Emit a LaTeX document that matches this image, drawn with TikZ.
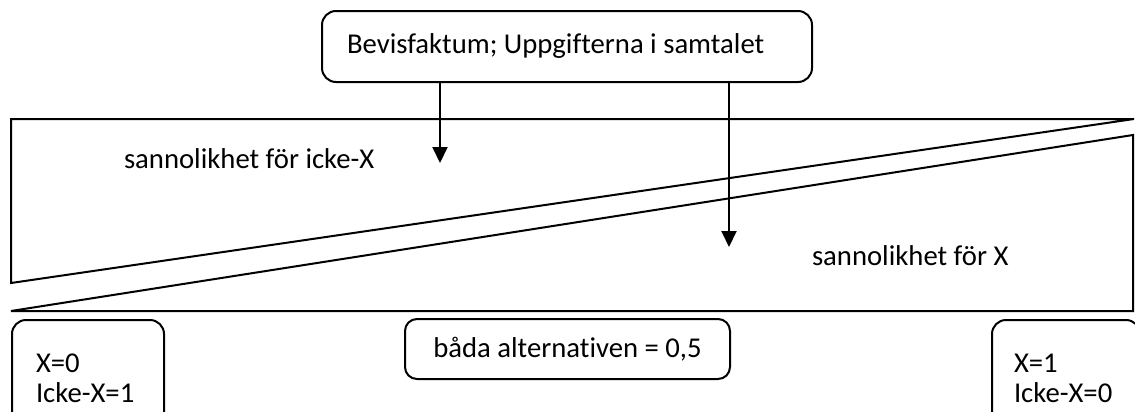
\documentclass[tikz,border=0pt]{standalone}
\usepackage{fontspec}
\setmainfont{Carlito}[Ligatures=NoCommon]
\usetikzlibrary{arrows.meta}

\begin{document}
\begin{tikzpicture}[x=0.5pt, y=-0.5pt, line width=1pt,
	box/.style = {draw, rounded corners=7pt, font=\fontsize{14.35}{15}\selectfont},
	txt/.style = {font=\fontsize{14.35}{15}\selectfont, anchor=base west, inner sep=0pt},
	pil/.style = {-{Triangle[length=8pt, width=7.5pt]}}]
	\clip (0,0) rectangle (1135,412);

	% the two wedges
	\coordinate (oA) at (11,119);
	\coordinate (oB) at (1134,119);
	\coordinate (oC) at (11,283);
	\coordinate (uA) at (11,311);
	\coordinate (uB) at (1133,135);
	\coordinate (uC) at (1133,311);
	\draw (oA) -- (oB) -- (oC) -- cycle;
	\draw (uA) -- (uB) -- (uC) -- cycle;

	\node[txt] (ickeX) at (123,168) {sannolikhet för icke-X};
	\node[txt] (X) at (811,265) {sannolikhet för X};

	% boxes
	\node[box, minimum width=245pt, minimum height=35.5pt, text width=220pt, inner xsep=12.5pt, align=flush left] (fakta) at (567,46.5) {Bevisfaktum; Uppgifterna i samtalet};
	\node[box, minimum width=162.5pt, minimum height=30pt, rounded corners=6pt] (halv) at (567.5,349) {båda alternativen = 0,5};
	\node[box, anchor=north west, text width=52pt, inner xsep=12pt, inner ysep=17pt, align=flush left] (noll) at (11,319) {X=0\\Icke-X=1};
	\node[box, anchor=north west, text width=52pt, inner xsep=11pt, inner ysep=17pt, align=flush left] (ett) at (991,319) {X=1\\Icke-X=0};

	% arrows down from the top box
	\coordinate (pilA) at (440,163);
	\coordinate (pilB) at (729,247);
	\draw[pil] (fakta.south -| pilA) -- (pilA);
	\draw[pil] (fakta.south -| pilB) -- (pilB);
\end{tikzpicture}
\end{document}
